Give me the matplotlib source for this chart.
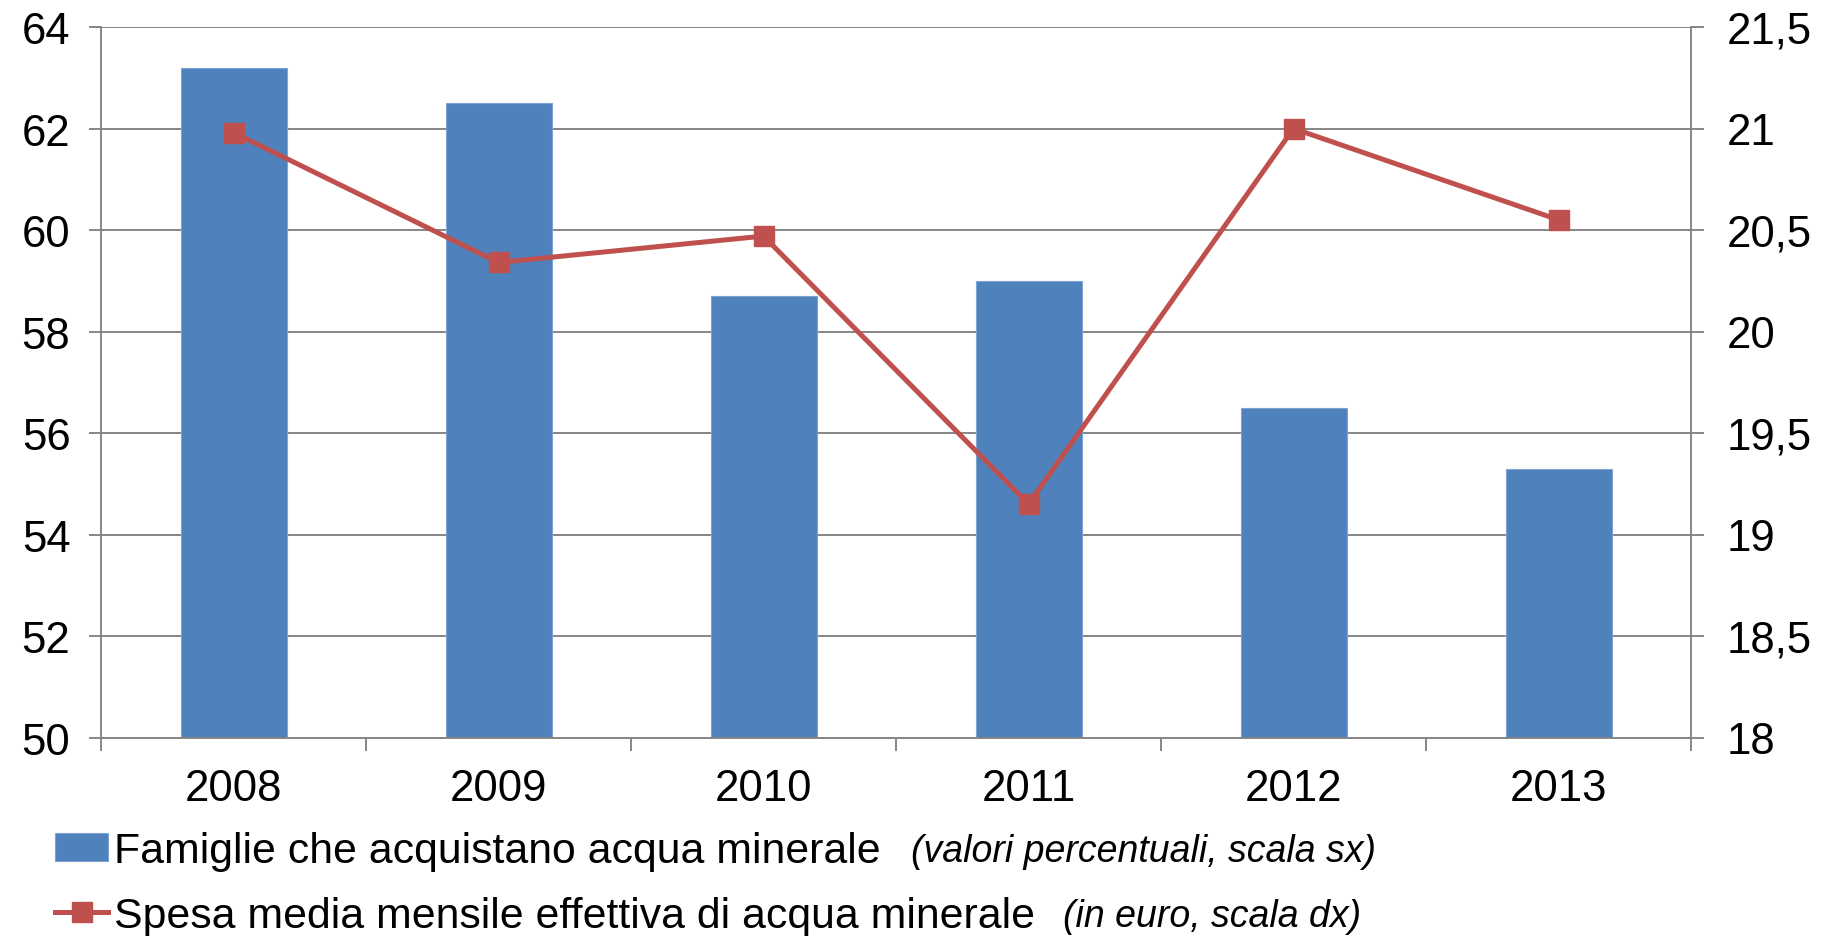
import matplotlib
matplotlib.use("Agg")
import matplotlib.pyplot as plt
from matplotlib.ticker import FuncFormatter, MultipleLocator, FixedLocator

# Data
anni = ["2008", "2009", "2010", "2011", "2012", "2013"]
famiglie = [63.2, 62.5, 58.7, 59.0, 56.5, 55.3]  # % families, left scale
spesa = [20.98, 20.34, 20.47, 19.15, 21.0, 20.55]  # euro per month, right scale

label_bar = "Famiglie che acquistano acqua minerale"
note_bar = "(valori percentuali, scala sx)"
label_line = "Spesa media mensile effettiva di acqua minerale"
note_line = "(in euro, scala dx)"

BLUE = "#4F81BD"
RED = "#C0504D"
GREY = "#868686"

plt.rcParams["font.family"] = ["Liberation Sans", "DejaVu Sans"]

fig = plt.figure(figsize=(18.27, 9.37), dpi=100)
ax = fig.add_axes([101 / 1827, 1 - 738.5 / 937, (1691 - 101) / 1827, (738.5 - 28) / 937])
ax2 = ax.twinx()

x = list(range(len(anni)))
bars = ax.bar(x, famiglie, width=0.4, color=BLUE, edgecolor="#7FA3D4", linewidth=0.8, zorder=2)

ax.set_ylim(50, 64)
ax.set_xlim(-0.5, len(anni) - 0.5)
ax.yaxis.set_major_locator(MultipleLocator(2))
ax.set_axisbelow(True)
ax.grid(True, axis="y", color=GREY, linewidth=1.4)

ax.set_xticks(x)
ax.set_xticklabels(anni)
ax.xaxis.set_minor_locator(FixedLocator([i - 0.5 for i in range(len(anni) + 1)]))
ax.tick_params(axis="x", which="major", length=0, pad=22, labelsize=31.5)
ax.tick_params(axis="x", which="minor", length=9, width=1.4, color=GREY, direction="out")
ax.tick_params(axis="y", length=9, width=1.4, color=GREY, pad=13, labelsize=31.5)

for side in ["top", "right"]:
    ax.spines[side].set_visible(False)
for side in ["left", "bottom"]:
    ax.spines[side].set_color(GREY)
    ax.spines[side].set_linewidth(1.4)

line, = ax2.plot(x, spesa, color=RED, linewidth=3.6, marker="s", markersize=14,
                 markeredgecolor=RED, markerfacecolor=RED, zorder=3)
ax2.set_ylim(18, 21.5)
ax2.yaxis.set_major_locator(MultipleLocator(0.5))
ax2.yaxis.set_major_formatter(FuncFormatter(lambda v, p: ("%g" % v).replace(".", ",")))
ax2.tick_params(axis="y", length=9, width=1.4, color=GREY, pad=17, labelsize=31.5)
for side in ["top", "left", "bottom"]:
    ax2.spines[side].set_visible(False)
ax2.spines["right"].set_color(GREY)
ax2.spines["right"].set_linewidth(1.4)

leg = fig.legend([bars, line], [label_bar, label_line], loc="upper left",
                 bbox_to_anchor=(55 / 1827, 1 - 832 / 937), frameon=False,
                 fontsize=30.8, borderpad=0, borderaxespad=0, handlelength=1.24,
                 handleheight=0.62, handletextpad=0.15, labelspacing=0.58, numpoints=1)

# italic notes placed right after each legend text
fig.canvas.draw()
inv = fig.transFigure.inverted()
for txt, note, gap in zip(leg.get_texts(), [note_bar, note_line], [30, 28]):
    bb = txt.get_window_extent()
    x0, y0 = inv.transform((bb.x1 + gap, (bb.y0 + bb.y1) / 2))
    fig.text(x0, y0, note, fontsize=27, style="italic", va="center", ha="left")

fig.savefig("out.png", dpi=100)
